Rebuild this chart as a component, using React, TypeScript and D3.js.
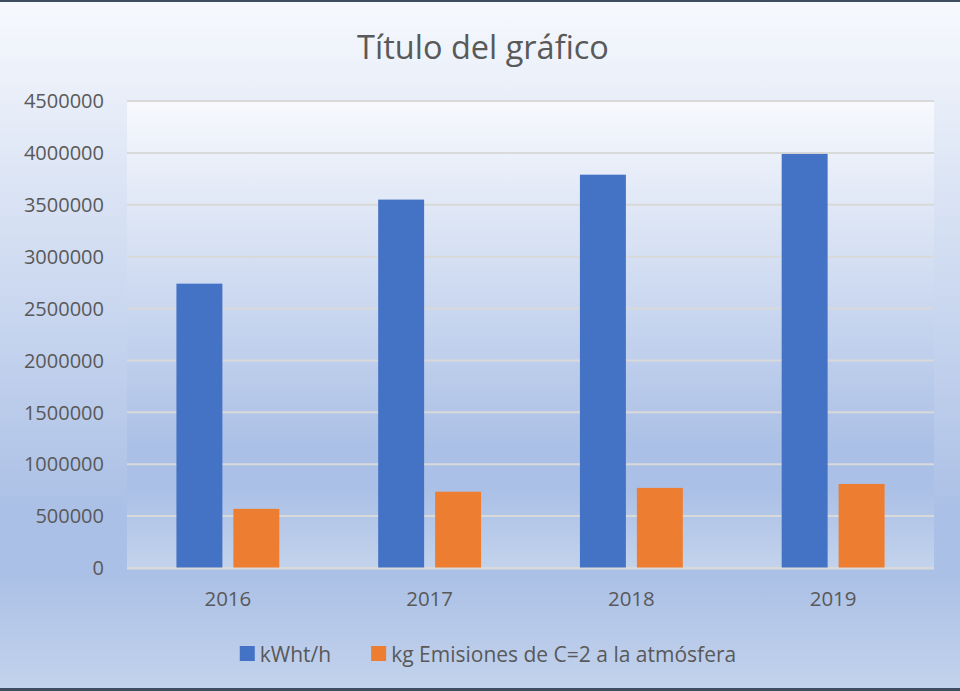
import { useEffect, useRef } from "react";
import * as d3 from "d3";

const years = ["2016", "2017", "2018", "2019"];
const kwhValues = [2740000, 3550000, 3790000, 3990000];
const co2Values = [570000, 735000, 772000, 810000];
const seriesNames = ["kWht/h", "kg Emisiones de C=2 a la atmósfera"];
const seriesColors = ["#4472C4", "#ED7D31"];
const yTicks = [0, 500000, 1000000, 1500000, 2000000, 2500000, 3000000, 3500000, 4000000, 4500000];

const W = 960;
const H = 691;
const TEXT = "#595959";
const FONT = "'Open Sans', sans-serif";

function addGradient(defs: any, id: string) {
  const g = defs.append("linearGradient").attr("id", id).attr("x1", 0).attr("y1", 0).attr("x2", 0).attr("y2", 1);
  const stops: [number, string][] = [
    [0, "#f7f9fd"],
    [0.74, "#abc0e6"],
    [0.83, "#abc0e6"],
    [1, "#c3d3ec"],
  ];
  stops.forEach(([o, c]) => g.append("stop").attr("offset", o).attr("stop-color", c));
}

export default function App() {
  const svgRef = useRef<SVGSVGElement | null>(null);

  useEffect(() => {
    if (!svgRef.current) return;
    const svg = d3.select(svgRef.current);
    svg.selectAll("*").remove();

    const margin = { top: 101, right: W - 934, bottom: H - 568, left: 127 };
    const innerW = W - margin.left - margin.right;
    const innerH = H - margin.top - margin.bottom;

    const defs = svg.append("defs");
    addGradient(defs, "chartBg");
    addGradient(defs, "plotBg");

    svg.append("rect").attr("width", W).attr("height", H).attr("fill", "url(#chartBg)");
    // window edge strips seen in the screenshot
    svg.append("rect").attr("width", W).attr("height", 2).attr("fill", "#3e4d60");
    svg.append("rect").attr("y", H - 3).attr("width", W).attr("height", 3).attr("fill", "#3e4d60");

    svg.append("text")
      .attr("x", 483).attr("y", 59)
      .attr("text-anchor", "middle")
      .style("font-family", FONT).style("font-size", "32.5px").style("fill", TEXT)
      .text("Título del gráfico");

    const g = svg.append("g").attr("transform", `translate(${margin.left},${margin.top})`);
    g.append("rect").attr("width", innerW).attr("height", innerH + 1).attr("fill", "url(#plotBg)");

    const x0 = d3.scaleBand().domain(years).range([0, innerW]).paddingInner(0.49).paddingOuter(0.245);
    const x1 = d3.scaleBand().domain(seriesNames).range([0, x0.bandwidth()]).paddingInner(0.193);
    const y = d3.scaleLinear().domain([0, 4500000]).range([innerH, 0]);

    g.selectAll(".grid").data(yTicks).enter().append("line")
      .attr("x1", 0).attr("x2", innerW)
      .attr("y1", (d) => y(d)).attr("y2", (d) => y(d))
      .attr("stroke", "#d9d9d9").attr("stroke-width", 2);

    g.selectAll(".ylab").data(yTicks).enter().append("text")
      .attr("x", -23).attr("y", (d) => y(d)).attr("dy", "0.36em")
      .attr("text-anchor", "end")
      .style("font-family", FONT).style("font-size", "20px").style("fill", TEXT)
      .text((d) => String(d));

    const series = [kwhValues, co2Values];
    years.forEach((yr, i) => {
      const grp = g.append("g").attr("transform", `translate(${x0(yr)},0)`);
      seriesNames.forEach((s, j) => {
        const v = series[j][i];
        grp.append("rect")
          .attr("x", x1(s) as number).attr("width", x1.bandwidth())
          .attr("y", y(v)).attr("height", innerH - y(v))
          .attr("fill", seriesColors[j]);
      });
      g.append("text")
        .attr("x", (x0(yr) as number) + x0.bandwidth() / 2).attr("y", innerH + 38)
        .attr("text-anchor", "middle")
        .style("font-family", FONT).style("font-size", "20.5px").style("fill", TEXT)
        .text(yr);
    });

    g.append("line").attr("x1", 0).attr("x2", innerW).attr("y1", innerH + 0.5).attr("y2", innerH + 0.5)
      .attr("stroke", "#d9d9d9").attr("stroke-width", 2);

    // legend
    const legend = svg.append("g").attr("transform", "translate(0,654)");
    const items = seriesNames.map((name, i) => {
      const it = legend.append("g");
      it.append("rect").attr("x", 0).attr("y", -8).attr("width", 15).attr("height", 15).attr("fill", seriesColors[i]);
      const t = it.append("text").attr("x", 20).attr("y", 0).attr("dy", "0.36em")
        .style("font-family", FONT).style("font-size", "21px").style("fill", TEXT).text(name);
      const w = 20 + (t.node() as SVGTextElement).getComputedTextLength();
      return { it, w };
    });
    const gap = 40;
    const total = items.reduce((s, d) => s + d.w, 0) + gap * (items.length - 1);
    let cx = 488 - total / 2;
    items.forEach((d) => {
      d.it.attr("transform", `translate(${cx},0)`);
      cx += d.w + gap;
    });
  }, []);

  return (
    <svg ref={svgRef} width={W} height={H} style={{ position: "absolute", left: 0, top: 0, display: "block" }} />
  );
}
